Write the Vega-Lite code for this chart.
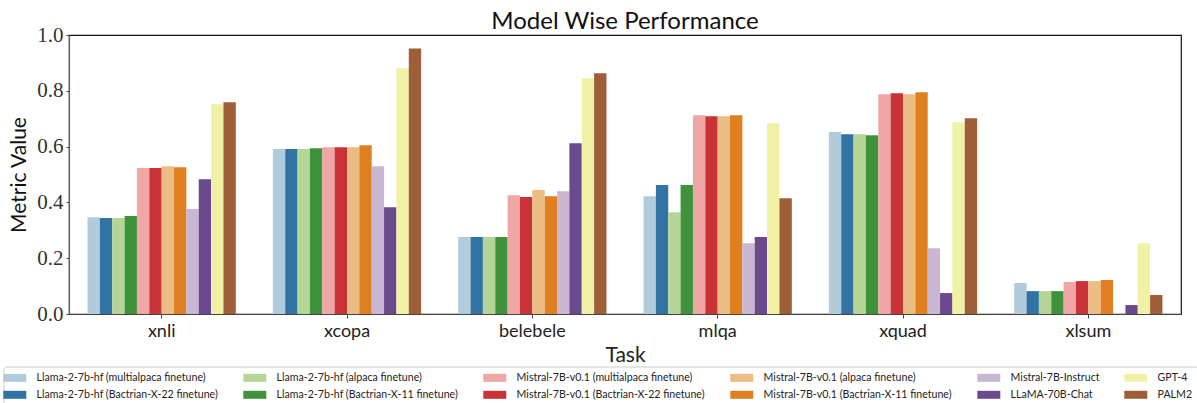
{
  "$schema": "https://vega.github.io/schema/vega-lite/v6.json",
  "autosize": "none",
  "width": 1112,
  "height": 279,
  "padding": {"left": 69, "top": 35, "right": 16, "bottom": 89},
  "background": "white",
  "title": {"text": "Model Wise Performance", "font": "Lato", "fontSize": 24, "fontWeight": "normal", "color": "#111", "baseline": "alphabetic", "offset": -29, "anchor": "middle", "frame": "group"},
  "data": {"values": [
    {"task": "xnli", "model": "Llama-2-7b-hf (multialpaca finetune)", "value": 0.347},
    {"task": "xnli", "model": "Llama-2-7b-hf (Bactrian-X-22 finetune)", "value": 0.344},
    {"task": "xnli", "model": "Llama-2-7b-hf (alpaca finetune)", "value": 0.344},
    {"task": "xnli", "model": "Llama-2-7b-hf (Bactrian-X-11 finetune)", "value": 0.351},
    {"task": "xnli", "model": "Mistral-7B-v0.1 (multialpaca finetune)", "value": 0.523},
    {"task": "xnli", "model": "Mistral-7B-v0.1 (Bactrian-X-22 finetune)", "value": 0.523},
    {"task": "xnli", "model": "Mistral-7B-v0.1 (alpaca finetune)", "value": 0.530},
    {"task": "xnli", "model": "Mistral-7B-v0.1 (Bactrian-X-11 finetune)", "value": 0.526},
    {"task": "xnli", "model": "Mistral-7B-Instruct", "value": 0.376},
    {"task": "xnli", "model": "LLaMA-70B-Chat", "value": 0.483},
    {"task": "xnli", "model": "GPT-4", "value": 0.752},
    {"task": "xnli", "model": "PALM2", "value": 0.759},
    {"task": "xcopa", "model": "Llama-2-7b-hf (multialpaca finetune)", "value": 0.591},
    {"task": "xcopa", "model": "Llama-2-7b-hf (Bactrian-X-22 finetune)", "value": 0.591},
    {"task": "xcopa", "model": "Llama-2-7b-hf (alpaca finetune)", "value": 0.591},
    {"task": "xcopa", "model": "Llama-2-7b-hf (Bactrian-X-11 finetune)", "value": 0.594},
    {"task": "xcopa", "model": "Mistral-7B-v0.1 (multialpaca finetune)", "value": 0.598},
    {"task": "xcopa", "model": "Mistral-7B-v0.1 (Bactrian-X-22 finetune)", "value": 0.598},
    {"task": "xcopa", "model": "Mistral-7B-v0.1 (alpaca finetune)", "value": 0.598},
    {"task": "xcopa", "model": "Mistral-7B-v0.1 (Bactrian-X-11 finetune)", "value": 0.605},
    {"task": "xcopa", "model": "Mistral-7B-Instruct", "value": 0.530},
    {"task": "xcopa", "model": "LLaMA-70B-Chat", "value": 0.383},
    {"task": "xcopa", "model": "GPT-4", "value": 0.881},
    {"task": "xcopa", "model": "PALM2", "value": 0.952},
    {"task": "belebele", "model": "Llama-2-7b-hf (multialpaca finetune)", "value": 0.276},
    {"task": "belebele", "model": "Llama-2-7b-hf (Bactrian-X-22 finetune)", "value": 0.276},
    {"task": "belebele", "model": "Llama-2-7b-hf (alpaca finetune)", "value": 0.276},
    {"task": "belebele", "model": "Llama-2-7b-hf (Bactrian-X-11 finetune)", "value": 0.276},
    {"task": "belebele", "model": "Mistral-7B-v0.1 (multialpaca finetune)", "value": 0.426},
    {"task": "belebele", "model": "Mistral-7B-v0.1 (Bactrian-X-22 finetune)", "value": 0.419},
    {"task": "belebele", "model": "Mistral-7B-v0.1 (alpaca finetune)", "value": 0.444},
    {"task": "belebele", "model": "Mistral-7B-v0.1 (Bactrian-X-11 finetune)", "value": 0.422},
    {"task": "belebele", "model": "Mistral-7B-Instruct", "value": 0.440},
    {"task": "belebele", "model": "LLaMA-70B-Chat", "value": 0.612},
    {"task": "belebele", "model": "GPT-4", "value": 0.845},
    {"task": "belebele", "model": "PALM2", "value": 0.863},
    {"task": "mlqa", "model": "Llama-2-7b-hf (multialpaca finetune)", "value": 0.422},
    {"task": "mlqa", "model": "Llama-2-7b-hf (Bactrian-X-22 finetune)", "value": 0.462},
    {"task": "mlqa", "model": "Llama-2-7b-hf (alpaca finetune)", "value": 0.365},
    {"task": "mlqa", "model": "Llama-2-7b-hf (Bactrian-X-11 finetune)", "value": 0.462},
    {"task": "mlqa", "model": "Mistral-7B-v0.1 (multialpaca finetune)", "value": 0.712},
    {"task": "mlqa", "model": "Mistral-7B-v0.1 (Bactrian-X-22 finetune)", "value": 0.709},
    {"task": "mlqa", "model": "Mistral-7B-v0.1 (alpaca finetune)", "value": 0.709},
    {"task": "mlqa", "model": "Mistral-7B-v0.1 (Bactrian-X-11 finetune)", "value": 0.712},
    {"task": "mlqa", "model": "Mistral-7B-Instruct", "value": 0.254},
    {"task": "mlqa", "model": "LLaMA-70B-Chat", "value": 0.276},
    {"task": "mlqa", "model": "GPT-4", "value": 0.684},
    {"task": "mlqa", "model": "PALM2", "value": 0.415},
    {"task": "xquad", "model": "Llama-2-7b-hf (multialpaca finetune)", "value": 0.652},
    {"task": "xquad", "model": "Llama-2-7b-hf (Bactrian-X-22 finetune)", "value": 0.644},
    {"task": "xquad", "model": "Llama-2-7b-hf (alpaca finetune)", "value": 0.644},
    {"task": "xquad", "model": "Llama-2-7b-hf (Bactrian-X-11 finetune)", "value": 0.641},
    {"task": "xquad", "model": "Mistral-7B-v0.1 (multialpaca finetune)", "value": 0.788},
    {"task": "xquad", "model": "Mistral-7B-v0.1 (Bactrian-X-22 finetune)", "value": 0.791},
    {"task": "xquad", "model": "Mistral-7B-v0.1 (alpaca finetune)", "value": 0.788},
    {"task": "xquad", "model": "Mistral-7B-v0.1 (Bactrian-X-11 finetune)", "value": 0.795},
    {"task": "xquad", "model": "Mistral-7B-Instruct", "value": 0.236},
    {"task": "xquad", "model": "LLaMA-70B-Chat", "value": 0.075},
    {"task": "xquad", "model": "GPT-4", "value": 0.687},
    {"task": "xquad", "model": "PALM2", "value": 0.702},
    {"task": "xlsum", "model": "Llama-2-7b-hf (multialpaca finetune)", "value": 0.111},
    {"task": "xlsum", "model": "Llama-2-7b-hf (Bactrian-X-22 finetune)", "value": 0.082},
    {"task": "xlsum", "model": "Llama-2-7b-hf (alpaca finetune)", "value": 0.082},
    {"task": "xlsum", "model": "Llama-2-7b-hf (Bactrian-X-11 finetune)", "value": 0.082},
    {"task": "xlsum", "model": "Mistral-7B-v0.1 (multialpaca finetune)", "value": 0.115},
    {"task": "xlsum", "model": "Mistral-7B-v0.1 (Bactrian-X-22 finetune)", "value": 0.118},
    {"task": "xlsum", "model": "Mistral-7B-v0.1 (alpaca finetune)", "value": 0.118},
    {"task": "xlsum", "model": "Mistral-7B-v0.1 (Bactrian-X-11 finetune)", "value": 0.122},
    {"task": "xlsum", "model": "LLaMA-70B-Chat", "value": 0.032},
    {"task": "xlsum", "model": "GPT-4", "value": 0.254},
    {"task": "xlsum", "model": "PALM2", "value": 0.068}
  ]},
  "mark": {"type": "bar"},
  "encoding": {
    "x": {
      "field": "task", "type": "nominal", "sort": null,
      "scale": {"paddingInner": 0.2, "paddingOuter": 0.1},
      "axis": {"title": "Task", "labelAngle": 0, "labelFont": "Lato", "labelFontSize": 18, "labelColor": "#222", "labelPadding": 4,
               "titleFont": "Lato", "titleFontSize": 21, "titleFontWeight": "normal", "titleColor": "#222", "titlePadding": 4,
               "domainColor": "#444", "domainWidth": 1.2, "tickColor": "#444", "tickSize": 4}
    },
    "xOffset": {
      "field": "model", "type": "nominal",
      "scale": {"paddingInner": 0, "paddingOuter": 0, "domain": [
        "Llama-2-7b-hf (multialpaca finetune)", "Llama-2-7b-hf (Bactrian-X-22 finetune)", "Llama-2-7b-hf (alpaca finetune)", "Llama-2-7b-hf (Bactrian-X-11 finetune)",
        "Mistral-7B-v0.1 (multialpaca finetune)", "Mistral-7B-v0.1 (Bactrian-X-22 finetune)", "Mistral-7B-v0.1 (alpaca finetune)", "Mistral-7B-v0.1 (Bactrian-X-11 finetune)",
        "Mistral-7B-Instruct", "LLaMA-70B-Chat", "GPT-4", "PALM2"]}
    },
    "y": {
      "field": "value", "type": "quantitative",
      "scale": {"domain": [0, 1], "nice": false},
      "axis": {"title": "Metric Value", "values": [0, 0.2, 0.4, 0.6, 0.8, 1.0], "format": ".1f", "grid": false,
               "labelFont": "Liberation Serif", "labelFontSize": 21, "labelColor": "#333", "labelPadding": 3,
               "titleFont": "Lato", "titleFontSize": 21, "titleFontWeight": "normal", "titleColor": "#111", "titlePadding": 7,
               "domainColor": "#666", "domainWidth": 1.2, "tickColor": "#444", "tickSize": 3}
    },
    "color": {
      "field": "model", "type": "nominal",
      "scale": {
        "domain": [
          "Llama-2-7b-hf (multialpaca finetune)", "Llama-2-7b-hf (alpaca finetune)", "Mistral-7B-v0.1 (multialpaca finetune)", "Mistral-7B-v0.1 (alpaca finetune)", "Mistral-7B-Instruct", "GPT-4",
          "Llama-2-7b-hf (Bactrian-X-22 finetune)", "Llama-2-7b-hf (Bactrian-X-11 finetune)", "Mistral-7B-v0.1 (Bactrian-X-22 finetune)", "Mistral-7B-v0.1 (Bactrian-X-11 finetune)", "LLaMA-70B-Chat", "PALM2"],
        "range": ["#afcbdc", "#b4d595", "#efa6a5", "#ebbd82", "#c8b6d2", "#f1f1a5",
                  "#3174a3", "#3f923a", "#c93236", "#df7f20", "#6a498d", "#9e5e38"]
      },
      "legend": {
        "title": null, "orient": "none", "legendX": -65.5, "legendY": 331.5, "columns": 6, "direction": "horizontal",
        "columnPadding": 24, "rowPadding": 6, "padding": 6, "strokeColor": "#ccc", "cornerRadius": 3, "fillColor": "white",
        "symbolType": "M-2.3,-0.8H2.3V0.8H-2.3Z", "symbolSize": 100, "symbolStrokeWidth": 0, "symbolOpacity": 1,
        "labelFont": "Lato", "labelFontSize": 10.6, "labelColor": "#222", "labelOffset": 16.5, "labelLimit": 300
      }
    }
  },
  "config": {
    "view": {"stroke": "#111", "strokeWidth": 1.2},
    "bar": {"stroke": null}
  }
}
